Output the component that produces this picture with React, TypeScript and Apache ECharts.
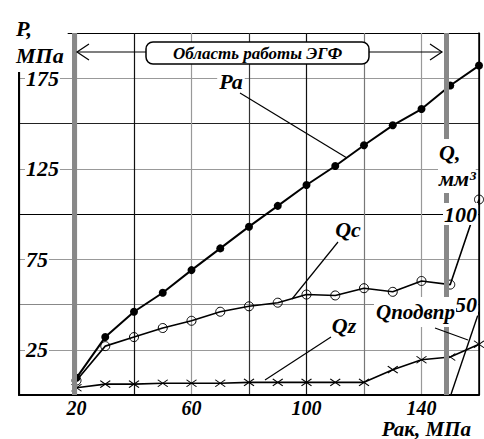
import React, { useEffect, useRef } from 'react';
import * as echarts from 'echarts';

// ---- data ----
const pressure = [20, 30, 40, 50, 60, 70, 80, 90, 100, 110, 120, 130, 140, 150, 160];
const paValues = [9.5, 32, 46, 56.5, 69, 81, 93, 104.5, 116, 126.5, 138, 149, 158, 171, 182];
const qcValues = [8, 27, 32, 37, 41, 46, 49, 51, 55.5, 55, 59, 57, 63, 61, 108];
const qzValues = [4, 6, 6, 6.5, 6.5, 6.5, 7, 7, 7, 7, 7, 14, 19.5, 21, 28];
const qPodvprX = [150.3, 160];
const qPodvprValues = [0.5, 46];
const egfBounds = [19.3, 148.7];
const xTickLabels = [20, 60, 100, 140];
const pTickLabels = [25, 75, 125, 175];
const qTickLabels = [50, 100];

const FONT = 'Liberation Serif';

const pairs = (xs: number[], ys: number[]) => xs.map((x, i) => [x, ys[i]]);

const txt = (text: string, x: number, y: number, size: number, extra: any = {}) => ({
  type: 'text',
  x,
  y,
  z: 100,
  style: {
    text,
    fill: '#000',
    fontFamily: FONT,
    fontSize: size,
    fontWeight: 'bold',
    fontStyle: 'italic',
    align: 'center',
    verticalAlign: 'middle',
    backgroundColor: '#fff',
    ...extra,
  },
});

const seg = (x1: number, y1: number, x2: number, y2: number, w = 1.2) => ({
  type: 'line',
  z: 100,
  shape: { x1, y1, x2, y2 },
  style: { stroke: '#000', lineWidth: w },
});

export default function App() {
  const ref = useRef<HTMLDivElement>(null);

  useEffect(() => {
    document.body.style.margin = '0';
    const chart = echarts.init(ref.current!, undefined, { renderer: 'svg' });
    const labelStyle = {
      color: '#000',
      fontFamily: FONT,
      fontSize: 22,
      fontWeight: 'bold' as const,
      fontStyle: 'italic' as const,
    };
    chart.setOption({
      animation: false,
      backgroundColor: '#fff',
      grid: { left: 19, right: 5, top: 33, bottom: 44 },
      xAxis: {
        type: 'value',
        min: 0,
        max: 160,
        interval: 20,
        axisLine: { lineStyle: { color: '#000', width: 2 } },
        axisTick: { show: false },
        axisLabel: {
          ...labelStyle,
          fontSize: 20,
          margin: 3,
          formatter: (v: number) => (xTickLabels.includes(v) ? String(v) : ''),
        },
        splitLine: {
          show: true,
          lineStyle: {
            width: 1.2,
            color: ['#000', '#999', '#111', '#999', '#333', '#111', '#777', '#999', '#000'],
          },
        },
      },
      yAxis: [
        {
          type: 'value',
          min: 0,
          max: 200,
          interval: 25,
          axisLine: { show: true, lineStyle: { color: '#000', width: 2 } },
          axisTick: { show: false },
          axisLabel: {
            ...labelStyle,
            inside: true,
            margin: 6,
            backgroundColor: '#fff',
            padding: [0, 1, 0, 1],
            formatter: (v: number) => (pTickLabels.includes(v) ? String(v) : ''),
          },
          splitLine: {
            show: true,
            lineStyle: {
              width: 1.2,
              color: ['#000', '#999', '#888', '#999', '#000', '#999', '#222', '#999', '#000'],
            },
          },
        },
        {
          type: 'value',
          position: 'right',
          min: 0,
          max: 200,
          interval: 25,
          z: 10,
          axisLine: { show: true, lineStyle: { color: '#000', width: 1.5 } },
          axisTick: { show: false },
          axisLabel: {
            ...labelStyle,
            inside: true,
            margin: 1,
            backgroundColor: '#fff',
            padding: [0, 1, 0, 1],
            formatter: (v: number) => (qTickLabels.includes(v) ? String(v) : ''),
          },
          splitLine: { show: false },
        },
      ],
      series: [
        {
          type: 'line',
          name: 'ЭГФ',
          data: [],
          z: 1,
          silent: true,
          markLine: {
            silent: true,
            symbol: 'none',
            label: { show: false },
            lineStyle: { color: '#888', width: 5, type: 'solid' },
            data: egfBounds.map((x) => ({ xAxis: x })),
          },
        },
        {
          type: 'line',
          name: 'Qz',
          yAxisIndex: 1,
          data: pairs(pressure, qzValues),
          symbol: 'path://M0,0L10,7M10,0L0,7',
          symbolSize: [10, 7],
          itemStyle: { color: 'none', borderColor: '#000', borderWidth: 1 },
          lineStyle: { color: '#000', width: 1.6 },
        },
        {
          type: 'line',
          name: 'Qподвпр',
          yAxisIndex: 1,
          data: pairs(qPodvprX, qPodvprValues),
          symbol: 'none',
          lineStyle: { color: '#000', width: 1.4 },
        },
        {
          type: 'line',
          name: 'Qc',
          yAxisIndex: 1,
          data: pairs(pressure, qcValues),
          symbol: 'circle',
          symbolSize: 9,
          itemStyle: { color: 'none', borderColor: '#000', borderWidth: 1 },
          lineStyle: { color: '#000', width: 1.6 },
        },
        {
          type: 'line',
          name: 'Pa',
          data: pairs(pressure, paValues),
          symbol: 'circle',
          symbolSize: 8,
          itemStyle: { color: '#000' },
          lineStyle: { color: '#000', width: 2 },
        },
      ],
      graphic: [
        txt('P,\nМПа', 14, 13, 22, { align: 'left', verticalAlign: 'top', lineHeight: 27, padding: [2, 4, 3, 2] }),
        // working-region banner
        seg(77, 52, 146, 52),
        { type: 'polyline', z: 100, shape: { points: [[89, 44], [77, 52], [89, 60]] }, style: { stroke: '#000', fill: 'none', lineWidth: 1.2 } },
        seg(369, 52, 442, 52),
        { type: 'polyline', z: 100, shape: { points: [[430, 44], [442, 52], [430, 60]] }, style: { stroke: '#000', fill: 'none', lineWidth: 1.2 } },
        { type: 'rect', z: 100, shape: { x: 146, y: 42, width: 223, height: 22, r: 7 }, style: { fill: '#fff', stroke: '#000', lineWidth: 1.5 } },
        txt('Область работы ЭГФ', 257.5, 53, 17, { backgroundColor: 'transparent' }),
        // curve labels and leaders
        seg(240, 93, 347, 158),
        txt('Ра', 231, 81, 22, { padding: [0, 2] }),
        seg(338, 242, 292, 299),
        txt('Qc', 348, 229, 22, { padding: [0, 2] }),
        seg(331, 337, 265, 380),
        txt('Qz', 344, 325, 22, { padding: [0, 2] }),
        seg(435, 328, 468, 340),
        txt('Qподвпр', 415, 312, 21, { padding: [4, 1, 5, 2] }),
        txt('Q,\nмм³', 438, 139, 22, { align: 'left', verticalAlign: 'top', lineHeight: 26, padding: [0, 0, 2, 1] }),
        txt('Рак, МПа', 471, 439, 21, { align: 'right', verticalAlign: 'bottom', backgroundColor: 'transparent' }),
      ],
    });
    return () => chart.dispose();
  }, []);

  return <div ref={ref} style={{ width: 484, height: 439 }} />;
}
